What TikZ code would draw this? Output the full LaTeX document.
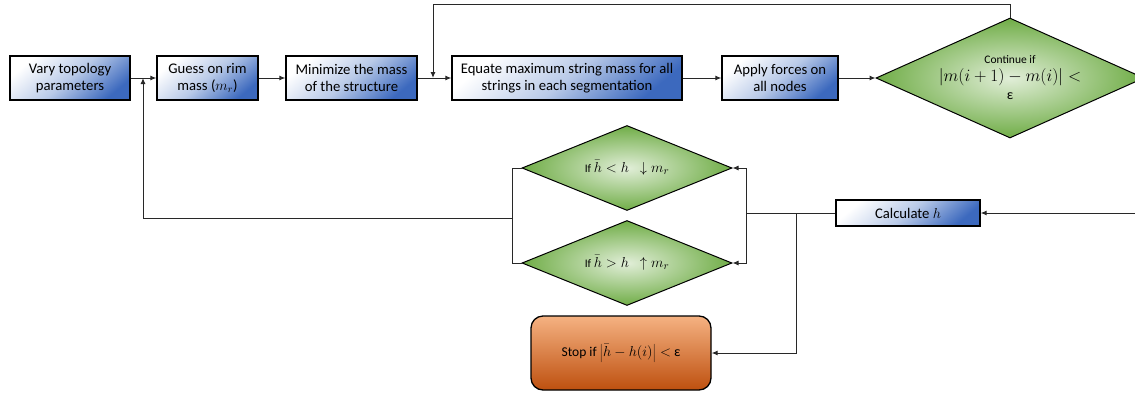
\documentclass[tikz,border=0pt]{standalone}
\usepackage{fontspec}
\setmainfont{Carlito}
\usetikzlibrary{shapes.geometric,arrows.meta}
\definecolor{bluebox}{RGB}{60,105,190}
\definecolor{bluemid}{RGB}{185,202,232}
\definecolor{greendk}{RGB}{112,173,71}
\definecolor{greenlt}{RGB}{225,238,216}
\definecolor{orangelt}{RGB}{245,178,130}
\definecolor{orangedk}{RGB}{190,80,15}
\definecolor{linec}{RGB}{40,40,40}
\newcommand{\bmth}[1]{{\fontsize{15.5}{18}\selectfont$#1$}}
\newcommand{\bmthc}[1]{{\fontsize{17.5}{19}\selectfont$#1$}}
\tikzset{
  procbox/.style={draw=black, line width=1.3pt, minimum height=44pt, align=center, inner sep=2pt,
    top color=white, bottom color=bluebox, middle color=bluemid, shading angle=40, font=\fontsize{14.7}{17}\selectfont},
  decbox/.style={diamond, draw=black, line width=1pt, inner sep=0pt, align=center,
    shading=radial, inner color=greenlt, outer color=greendk},
  dectext/.style={align=center, inner sep=0pt, font=\fontsize{11.5}{18}\selectfont},
  stopbox/.style={draw=black, line width=1.3pt, rounded corners=12pt, align=center,
    top color=orangelt, bottom color=orangedk, font=\fontsize{13.5}{15}\selectfont},
  conn/.style={draw=linec, line width=1pt},
  arr/.style={conn, -{Latex[length=6pt,width=5pt]}}
}
\begin{document}
\begin{tikzpicture}[x=1pt,y=-1pt]
\useasboundingbox (0,0) rectangle (1135,394);
\node[procbox, minimum width=120pt] (vary) at (70,78) {Vary topology\\parameters};
\node[procbox, minimum width=101pt] (guess) at (207.5,78) {Guess on rim\\mass ($m_r$)};
\node[procbox, minimum width=131pt] (mini) at (351.5,78) {Minimize the mass\\of the structure};
\node[procbox, minimum width=230pt] (equate) at (567,78) {Equate maximum string mass for all\\strings in each segmentation};
\node[procbox, minimum width=116pt] (apply) at (780,78) {Apply forces on\\all nodes};
\node[decbox, minimum width=268pt, minimum height=120pt] (cont) at (1010,78) {};
\node[dectext] (conttext) at (cont.center) {Continue if\\\bmthc{|m(i+1)-m(i)|<}\\{\fontsize{14}{15}\selectfont ε}};
\node[decbox, minimum width=210pt, minimum height=85pt] (d1) at (627,168) {};
\node[dectext] (d1text) at (d1.center) {If \bmth{\bar h<h\ \ \downarrow m_r}};
\node[decbox, minimum width=210pt, minimum height=85pt] (d2) at (627,263) {};
\node[dectext] (d2text) at (d2.center) {If \bmth{\bar h>h\ \ \uparrow m_r}};
\node[procbox, minimum width=144pt, minimum height=26pt, inner sep=1pt] (calc) at (908,213) {Calculate $h$};
\node[stopbox, minimum width=180pt, minimum height=74pt] (stop) at (621,353) {Stop if \bmth{\left|\bar h-h(i)\right|<}\ {\fontsize{14}{15}\selectfont ε}};
\coordinate (fb) at (433,78);
\coordinate (vg) at (143,78);
\coordinate (jl) at (513,218);
\coordinate (jr) at (746,213);
\coordinate (js) at (796,213);
\coordinate (inp) at (1135,213);
\draw[arr] (vary) -- (guess);
\draw[arr] (guess) -- (mini);
\draw[arr] (mini) -- (equate);
\draw[arr] (equate) -- (apply);
\draw[arr] (apply) -- (cont);
\draw[arr] (cont.north) -- ++(0,-13) -| (fb);
\draw[conn] (d1.west) -- ++(-9,0) |- (d2.west);
\draw[arr] (jl) -| (vg);
\draw[conn] (calc.west) -- (jr);
\draw[arr] (jr) |- (d1.east);
\draw[arr] (jr) |- (d2.east);
\draw[arr] (js) |- (stop.east);
\draw[arr] (inp) -- (calc.east);
\end{tikzpicture}
\end{document}
